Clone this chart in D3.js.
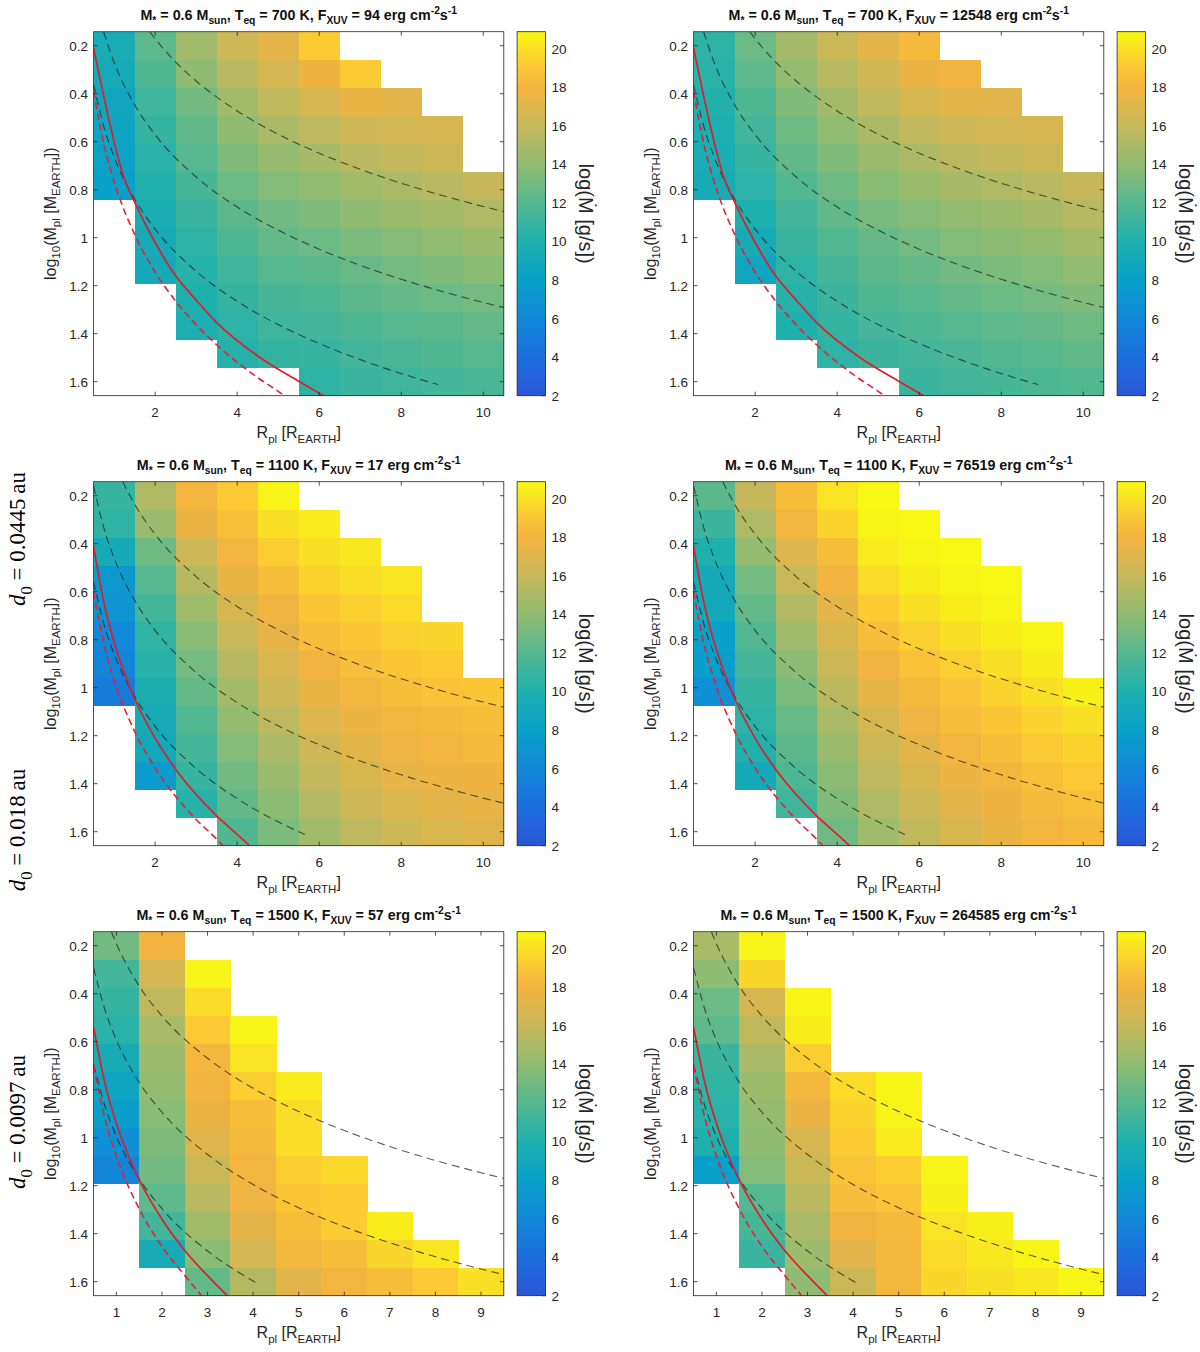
<!DOCTYPE html>
<html>
<head>
<meta charset="utf-8">
<script src="https://cdn.jsdelivr.net/npm/d3@7"></script>
<style>
  body { margin: 0; background: #fff; }
  svg text { font-family: "Liberation Sans", Arial, sans-serif; fill: #262626; }
</style>
</head>
<body>
<svg id="chart" width="1200" height="1352"></svg>
<script>
// ---- grid axes ----
const rTop = [1, 2, 3, 4, 5, 6, 7, 8, 9, 10];
const rBottom = [1, 2, 3, 4, 5, 6, 7, 8, 9];
const logMRows = [0.2, 0.3167, 0.4333, 0.55, 0.6667, 0.7833, 0.9, 1.0167, 1.1333, 1.25, 1.3667, 1.4833, 1.6];

const xTicksTop = [2, 4, 6, 8, 10];
const xTicksBottom = [1, 2, 3, 4, 5, 6, 7, 8, 9];
const yTicks = [0.2, 0.4, 0.6, 0.8, 1, 1.2, 1.4, 1.6];
const cbTicks = [2, 4, 6, 8, 10, 12, 14, 16, 18, 20];
const cbDomain = [2, 20.9];

const n = null;

// log(Mdot [g/s]) per cell, rows = logMRows (top to bottom), cols = R
const mdot700low = [
  [9.5, 12.3, 14.6, 16.3, 17.3, 19.2, n, n, n, n],
  [9.3, 11.8, 14.0, 15.5, 16.6, 17.9, 19.2, n, n, n],
  [8.8, 11.2, 13.0, 14.7, 15.8, 16.7, 17.5, 17.2, n, n],
  [8.5, 10.8, 12.4, 14.0, 15.0, 15.7, 16.4, 16.6, 16.7, n],
  [8.3, 10.4, 12.0, 13.4, 14.3, 14.9, 15.5, 15.9, 16.2, n],
  [8.0, 10.1, 11.5, 12.8, 13.6, 14.1, 14.7, 15.1, 15.5, 16.0],
  [n, 9.6, 11.0, 12.2, 13.0, 13.4, 14.0, 14.4, 14.8, 15.2],
  [n, 9.3, 10.6, 11.7, 12.5, 12.8, 13.3, 13.7, 14.1, 14.5],
  [n, 9.1, 10.3, 11.2, 12.0, 12.2, 12.7, 13.1, 13.4, 13.8],
  [n, n, 10.0, 10.8, 11.5, 11.7, 12.2, 12.5, 12.8, 13.1],
  [n, n, 9.8, 10.5, 11.2, 11.3, 11.7, 12.0, 12.2, 12.5],
  [n, n, n, 10.2, 10.8, 10.9, 11.3, 11.6, 11.8, 12.0],
  [n, n, n, n, n, 10.6, 11.0, 11.2, 11.4, 11.6]
];
const mdot700high = [
  [10.6, 12.8, 14.8, 16.2, 17.2, 18.3, n, n, n, n],
  [10.4, 12.3, 14.2, 15.5, 16.5, 17.6, 18.0, n, n, n],
  [10.1, 11.8, 13.5, 14.8, 15.8, 16.7, 17.2, 17.2, n, n],
  [9.8, 11.3, 12.9, 14.1, 15.1, 15.9, 16.4, 16.6, 16.7, n],
  [9.6, 10.9, 12.4, 13.5, 14.4, 15.1, 15.6, 15.9, 16.2, n],
  [9.4, 10.5, 11.9, 12.9, 13.8, 14.4, 14.9, 15.2, 15.5, 16.0],
  [n, 10.0, 11.4, 12.4, 13.2, 13.7, 14.2, 14.5, 14.9, 15.4],
  [n, 9.4, 11.0, 11.9, 12.6, 13.1, 13.6, 13.9, 14.2, 14.8],
  [n, 8.7, 10.6, 11.5, 12.2, 12.6, 13.0, 13.3, 13.6, 14.1],
  [n, n, 10.3, 11.1, 11.8, 12.1, 12.5, 12.8, 13.1, 13.5],
  [n, n, 10.0, 10.8, 11.4, 11.7, 12.0, 12.3, 12.6, 12.9],
  [n, n, n, 10.5, 11.1, 11.3, 11.6, 11.9, 12.1, 12.4],
  [n, n, n, n, n, 11.0, 11.3, 11.5, 11.7, 11.9]
];
const mdot1100low = [
  [10.9, 15.2, 18.1, 19.1, 20.7, n, n, n, n, n],
  [10.6, 14.4, 17.6, 18.7, 20.0, 20.4, n, n, n, n],
  [9.2, 12.9, 16.3, 18.1, 19.3, 20.0, 20.3, n, n, n],
  [7.3, 12.0, 15.4, 17.5, 18.6, 19.5, 19.9, 20.2, n, n],
  [7.0, 11.4, 14.6, 16.8, 18.0, 19.0, 19.4, 19.8, n, n],
  [6.0, 10.7, 13.8, 16.1, 17.5, 18.5, 19.0, 19.4, 19.6, n],
  [5.8, 10.3, 13.1, 15.4, 16.9, 18.0, 18.6, 19.0, 19.2, n],
  [5.0, 9.7, 12.5, 14.8, 16.3, 17.5, 18.2, 18.6, 18.8, 19.0],
  [n, 9.4, 11.9, 14.2, 15.7, 17.0, 17.7, 18.2, 18.4, 18.6],
  [n, 9.0, 11.4, 13.6, 15.1, 16.4, 17.2, 17.8, 18.1, 18.3],
  [n, 7.6, 10.9, 13.0, 14.5, 15.9, 16.8, 17.4, 17.7, 17.9],
  [n, n, 10.3, 12.4, 13.9, 15.3, 16.3, 16.9, 17.3, 17.5],
  [n, n, n, 11.8, 13.3, 14.7, 15.7, 16.4, 16.9, 17.1]
];
const mdot1100high = [
  [12.2, 16.0, 18.6, 20.1, 20.9, n, n, n, n, n],
  [11.1, 15.2, 18.1, 19.5, 20.8, 20.9, n, n, n, n],
  [10.0, 14.2, 17.0, 18.6, 20.4, 20.8, 20.9, n, n, n],
  [9.2, 13.1, 16.1, 18.0, 19.8, 20.5, 20.8, 20.9, n, n],
  [9.0, 12.5, 15.3, 17.4, 19.2, 20.0, 20.5, 20.8, n, n],
  [8.0, 11.9, 14.6, 16.8, 18.6, 19.4, 20.0, 20.5, 20.8, n],
  [7.8, 11.4, 13.9, 16.2, 18.0, 18.8, 19.4, 20.0, 20.5, n],
  [6.6, 10.9, 13.3, 15.6, 17.4, 18.3, 18.9, 19.5, 20.0, 20.6],
  [n, 10.5, 12.7, 15.0, 16.8, 17.8, 18.5, 19.0, 19.5, 20.0],
  [n, 10.1, 12.2, 14.4, 16.2, 17.3, 18.1, 18.6, 19.1, 19.5],
  [n, 9.1, 11.7, 13.9, 15.7, 16.8, 17.7, 18.2, 18.7, 19.1],
  [n, n, 11.2, 13.4, 15.2, 16.3, 17.2, 17.9, 18.4, 18.7],
  [n, n, n, 12.9, 14.6, 15.8, 16.8, 17.5, 18.1, 18.3]
];
const mdot1500low = [
  [13.0, 18.0, n, n, n, n, n, n, n],
  [11.3, 16.6, 20.7, n, n, n, n, n, n],
  [10.8, 15.8, 19.8, n, n, n, n, n, n],
  [10.4, 15.0, 19.1, 20.7, n, n, n, n, n],
  [9.4, 14.5, 18.2, 20.1, n, n, n, n, n],
  [8.5, 14.2, 18.0, 19.3, 20.4, n, n, n, n],
  [7.8, 13.8, 17.6, 18.6, 19.9, n, n, n, n],
  [6.6, 13.4, 17.1, 18.3, 19.9, n, n, n, n],
  [5.8, 13.0, 16.2, 18.1, 19.3, 19.7, n, n, n],
  [n, 12.3, 15.5, 17.8, 19.0, 19.2, n, n, n],
  [n, 11.3, 14.7, 17.3, 18.6, 19.2, 20.5, n, n],
  [n, 9.4, 13.8, 16.6, 18.2, 18.6, 19.6, 20.2, n],
  [n, n, 12.5, 15.3, 17.2, 18.1, 18.6, 19.1, 20.0]
];
const mdot1500high = [
  [15.0, 20.7, n, n, n, n, n, n, n],
  [14.0, 19.6, n, n, n, n, n, n, n],
  [12.8, 16.7, 20.8, n, n, n, n, n, n],
  [12.3, 15.8, 20.5, n, n, n, n, n, n],
  [11.1, 15.0, 19.3, n, n, n, n, n, n],
  [10.7, 14.5, 18.2, 19.8, 20.8, n, n, n, n],
  [10.4, 14.2, 17.6, 19.5, 20.7, n, n, n, n],
  [10.0, 14.0, 16.8, 19.2, 20.4, n, n, n, n],
  [8.0, 13.6, 16.2, 18.9, 19.3, 20.7, n, n, n],
  [n, 12.0, 15.6, 18.5, 18.9, 20.6, n, n, n],
  [n, 11.5, 15.0, 18.0, 18.3, 20.1, 20.6, n, n],
  [n, 11.0, 14.5, 17.2, 18.2, 19.8, 20.3, 20.8, n],
  [n, n, 14.0, 16.2, 18.2, 19.6, 20.0, 20.3, 20.8]
];

// ---- curves, [R, log10 M] ----
const redSolid700 = [[0.5, 0.21], [0.74, 0.405], [1.0, 0.6], [1.22, 0.74], [1.5, 0.852], [2.0, 1.02], [2.5, 1.159], [3.0, 1.26], [3.5, 1.354], [4.5, 1.493], [5.5, 1.598], [6.1, 1.658]];
const redDash700 = [[0.5, 0.39], [0.75, 0.61], [1.0, 0.766], [1.5, 0.986], [2.0, 1.143], [2.5, 1.264], [3.0, 1.363], [3.5, 1.446], [4.0, 1.519], [4.5, 1.583], [5.0, 1.64], [5.15, 1.658]];
const dashA700 = [[1.87, 0.142], [2, 0.171], [2.5, 0.268], [3, 0.347], [4, 0.472], [5, 0.569], [6, 0.648], [7, 0.715], [8, 0.773], [9, 0.824], [10, 0.87], [10.5, 0.891]];
const dashB700 = [[0.744, 0.142], [1, 0.27], [1.5, 0.446], [2, 0.571], [3, 0.747], [4, 0.872], [5, 0.969], [6, 1.048], [7, 1.115], [8, 1.173], [9, 1.224], [10, 1.27], [10.5, 1.291]];
const dashC700 = [[0.5, 0.362], [0.75, 0.538], [1, 0.663], [1.5, 0.839], [2, 0.964], [3, 1.14], [4, 1.265], [5, 1.362], [6, 1.441], [7, 1.508], [8, 1.566], [8.9, 1.612]];

const redSolid1100 = [[0.5, 0.41], [0.75, 0.644], [1, 0.81], [1.5, 1.045], [2, 1.21], [2.5, 1.34], [3, 1.445], [3.5, 1.534], [4, 1.611], [4.3, 1.658]];
const redDash1100 = [[0.5, 0.6], [0.75, 0.815], [1, 0.967], [1.5, 1.182], [2, 1.334], [2.5, 1.453], [3, 1.549], [3.5, 1.631], [3.65, 1.658]];
const dashA1100 = [[1.21, 0.142], [1.5, 0.236], [2, 0.361], [3, 0.537], [4, 0.662], [5, 0.759], [6, 0.838], [7, 0.905], [8, 0.963], [9, 1.014], [10, 1.06], [10.5, 1.081]];
const dashB1100 = [[0.5, 0.159], [0.75, 0.335], [1, 0.46], [1.5, 0.636], [2, 0.761], [3, 0.937], [4, 1.062], [5, 1.159], [6, 1.238], [7, 1.305], [8, 1.363], [9, 1.414], [10, 1.46], [10.5, 1.481]];
const dashC1100 = [[0.5, 0.559], [0.75, 0.735], [1, 0.86], [1.5, 1.036], [2, 1.161], [3, 1.337], [4, 1.462], [5, 1.559], [5.65, 1.612]];

const redSolid1500 = [[0.5, 0.54], [0.75, 0.774], [1, 0.94], [1.25, 1.069], [1.5, 1.175], [2, 1.34], [2.5, 1.47], [3, 1.575], [3.43, 1.658]];
const redDash1500 = [[0.5, 0.7], [0.75, 0.92], [1, 1.076], [1.5, 1.296], [2, 1.453], [2.5, 1.574], [2.87, 1.658]];
const dashA1500 = [[0.89, 0.142], [1, 0.192], [1.5, 0.368], [2, 0.493], [3, 0.669], [4, 0.794], [5, 0.891], [6, 0.97], [7, 1.037], [8, 1.095], [9, 1.146], [9.5, 1.17]];
const dashB1500 = [[0.5, 0.292], [0.75, 0.468], [1, 0.593], [1.5, 0.769], [2, 0.894], [3, 1.07], [4, 1.195], [5, 1.292], [6, 1.371], [7, 1.438], [8, 1.496], [9, 1.547], [9.5, 1.571]];
const dashC1500 = [[0.5, 0.694], [0.75, 0.87], [1, 0.995], [1.5, 1.171], [2, 1.296], [3, 1.472], [4, 1.597], [4.1, 1.608]];

// ---- titles ----
const teqValues = ["700", "1100", "1500"];
const fxuvLeft = ["94", "17", "57"];
const fxuvRight = ["12548", "76519", "264585"];
const distLabels = ["0.0445", "0.018", "0.0097"];

// parula-like colour bar
const cmapValues = [2, 4, 6, 8, 10, 12, 14, 16, 18, 19, 20, 20.9];
const cmapColors = ["#2a56d6", "#1c6ede", "#1288d8", "#09a0c9", "#1eb0ad", "#55b890",
  "#8fbc72", "#c6b85a", "#f3b33f", "#fac636", "#f9e024", "#f8f814"];

const color = d3.scaleLinear().domain(cmapValues).range(cmapColors)
  .interpolate(d3.interpolateRgb).clamp(true);

const svg = d3.select("#chart");

// colour bar gradient
const grad = svg.append("defs").append("linearGradient")
  .attr("id", "cbgrad").attr("x1", 0).attr("y1", 1).attr("x2", 0).attr("y2", 0);
cmapValues.forEach((v, i) => {
  grad.append("stop")
    .attr("offset", (v - cbDomain[0]) / (cbDomain[1] - cbDomain[0]))
    .attr("stop-color", cmapColors[i]);
});

function richText(sel, parts, size) {
  let shift = 0;
  parts.forEach(([t, kind]) => {
    const target = kind === "sub" ? size * 0.3 : kind === "sup" ? -size * 0.42 : 0;
    const ts = sel.append("tspan").text(t).attr("dy", target - shift)
      .style("font-size", (kind === "sub" || kind === "sup" ? size * 0.72 : size) + "px");
    if (kind === "i") ts.style("font-style", "italic");
    shift = target;
  });
}

const colX = [93.6, 693.6];
const rowY = [31.7, 481.7, 931.7];
const plotW = 410.2;
const plotH = 364;

const panels = [];
const mdots = [[mdot700low, mdot700high], [mdot1100low, mdot1100high], [mdot1500low, mdot1500high]];
const curves = [
  [redSolid700, redDash700, dashA700, dashB700, dashC700],
  [redSolid1100, redDash1100, dashA1100, dashB1100, dashC1100],
  [redSolid1500, redDash1500, dashA1500, dashB1500, dashC1500]
];
for (let row = 0; row < 3; row++) {
  for (let col = 0; col < 2; col++) {
    panels.push({
      row, col,
      teq: teqValues[row],
      fxuv: col === 0 ? fxuvLeft[row] : fxuvRight[row],
      r: row === 2 ? rBottom : rTop,
      xticks: row === 2 ? xTicksBottom : xTicksTop,
      mdot: mdots[row][col],
      curves: curves[row]
    });
  }
}

const half = (logMRows[1] - logMRows[0]) / 2;

panels.forEach((p, idx) => {
  const x0 = colX[p.col], y0 = rowY[p.row];
  const g = svg.append("g");

  const x = d3.scaleLinear()
    .domain([p.r[0] - 0.5, p.r[p.r.length - 1] + 0.5])
    .range([x0, x0 + plotW]);
  const y = d3.scaleLinear()
    .domain([logMRows[0] - half, logMRows[logMRows.length - 1] + half])
    .range([y0, y0 + plotH]);

  // cells
  const cells = [];
  p.mdot.forEach((rowVals, i) => rowVals.forEach((v, j) => {
    if (v !== null) cells.push({ m: logMRows[i], r: p.r[j], v });
  }));
  g.append("g").selectAll("rect").data(cells).enter().append("rect")
    .attr("x", d => x(d.r - 0.5))
    .attr("y", d => y(d.m - half))
    .attr("width", d => x(d.r + 0.5) - x(d.r - 0.5) + 0.6)
    .attr("height", d => y(d.m + half) - y(d.m - half) + 0.6)
    .attr("fill", d => color(d.v))
    .attr("shape-rendering", "crispEdges");

  // curves
  g.append("clipPath").attr("id", "clip" + idx).append("rect")
    .attr("x", x0).attr("y", y0).attr("width", plotW).attr("height", plotH);
  const line = d3.line().x(d => x(d[0])).y(d => y(d[1])).curve(d3.curveMonotoneX);
  const lg = g.append("g").attr("clip-path", `url(#clip${idx})`).attr("fill", "none");
  [2, 3, 4].forEach(k => {
    lg.append("path").attr("d", line(p.curves[k]))
      .attr("stroke", "#1a1a1a").attr("stroke-opacity", 0.7)
      .attr("stroke-width", 1.1).attr("stroke-dasharray", "8,5");
  });
  lg.append("path").attr("d", line(p.curves[1]))
    .attr("stroke", "#e2203a").attr("stroke-width", 1.6).attr("stroke-dasharray", "7,4");
  lg.append("path").attr("d", line(p.curves[0]))
    .attr("stroke", "#dc1f2c").attr("stroke-width", 1.7);

  // box and ticks
  g.append("rect").attr("x", x0).attr("y", y0).attr("width", plotW).attr("height", plotH)
    .attr("fill", "none").attr("stroke", "#262626").attr("stroke-width", 0.8);
  const tk = g.append("g").attr("stroke", "#262626").attr("stroke-width", 0.8);
  p.xticks.forEach(t => {
    tk.append("line").attr("x1", x(t)).attr("x2", x(t)).attr("y1", y0 + plotH).attr("y2", y0 + plotH - 4);
    tk.append("line").attr("x1", x(t)).attr("x2", x(t)).attr("y1", y0).attr("y2", y0 + 4);
  });
  yTicks.forEach(t => {
    tk.append("line").attr("x1", x0).attr("x2", x0 + 4).attr("y1", y(t)).attr("y2", y(t));
    tk.append("line").attr("x1", x0 + plotW).attr("x2", x0 + plotW - 4).attr("y1", y(t)).attr("y2", y(t));
  });
  g.append("g").selectAll("text").data(p.xticks).enter().append("text")
    .attr("x", d => x(d)).attr("y", y0 + plotH + 21.5)
    .attr("text-anchor", "middle").style("font-size", "13.5px").text(d => d);
  g.append("g").selectAll("text").data(yTicks).enter().append("text")
    .attr("x", x0 - 5.5).attr("y", d => y(d)).attr("dy", "0.36em")
    .attr("text-anchor", "end").style("font-size", "13.5px").text(d => d);

  // title
  const title = g.append("text").attr("x", x0 + plotW / 2).attr("y", y0 - 12)
    .attr("text-anchor", "middle").style("font-weight", "bold").style("fill", "#111");
  richText(title, [["M", "n"], ["*", "sub"], [" = 0.6 M", "n"], ["sun", "sub"], [", T", "n"], ["eq", "sub"],
    [" = " + p.teq + " K, F", "n"], ["XUV", "sub"], [" = " + p.fxuv + " erg cm", "n"], ["-2", "sup"],
    ["s", "n"], ["-1", "sup"]], 14.3);

  // axis labels
  const xl = g.append("text").attr("x", x0 + plotW / 2).attr("y", y0 + plotH + 42.5)
    .attr("text-anchor", "middle");
  richText(xl, [["R", "n"], ["pl", "sub"], [" [R", "n"], ["EARTH", "sub"], ["]", "n"]], 16);
  const ylx = x0 - 38, yly = y0 + plotH / 2;
  const yl = g.append("text").attr("x", ylx).attr("y", yly)
    .attr("transform", `rotate(-90,${ylx},${yly})`).attr("text-anchor", "middle");
  richText(yl, [["log", "n"], ["10", "sub"], ["(M", "n"], ["pl", "sub"], [" [M", "n"], ["EARTH", "sub"], ["])", "n"]], 16);

  // colour bar
  const cbX = x0 + plotW + 13.3, cbW = 28.5;
  const cy = d3.scaleLinear().domain(cbDomain).range([y0 + plotH, y0]);
  g.append("rect").attr("x", cbX).attr("y", y0).attr("width", cbW).attr("height", plotH)
    .attr("fill", "url(#cbgrad)").attr("stroke", "#262626").attr("stroke-width", 0.8);
  cbTicks.forEach(t => {
    tk.append("line").attr("x1", cbX + cbW).attr("x2", cbX + cbW - 4).attr("y1", cy(t)).attr("y2", cy(t));
  });
  g.append("g").selectAll("text").data(cbTicks).enter().append("text")
    .attr("x", cbX + cbW + 6).attr("y", d => cy(d)).attr("dy", "0.36em")
    .style("font-size", "13.5px").text(d => d);
  const clx = cbX + cbW + 33, cly = y0 + plotH / 2;
  g.append("text").attr("x", clx).attr("y", cly)
    .attr("transform", `rotate(90,${clx},${cly})`).attr("text-anchor", "middle")
    .style("font-size", "20px").text("log(\u1E40 [g/s])");
});

// distance labels on the left
const distY = [539, 830, 1122];
distLabels.forEach((d, i) => {
  const t = svg.append("text").attr("x", 25).attr("y", distY[i])
    .attr("transform", `rotate(-90,25,${distY[i]})`).attr("text-anchor", "middle")
    .style("font-family", "'Liberation Serif', 'Times New Roman', serif").style("fill", "#000");
  richText(t, [["d", "i"], ["0", "sub"], [" = " + d + "\u2009au", "n"]], 23);
});
</script>
</body>
</html>
